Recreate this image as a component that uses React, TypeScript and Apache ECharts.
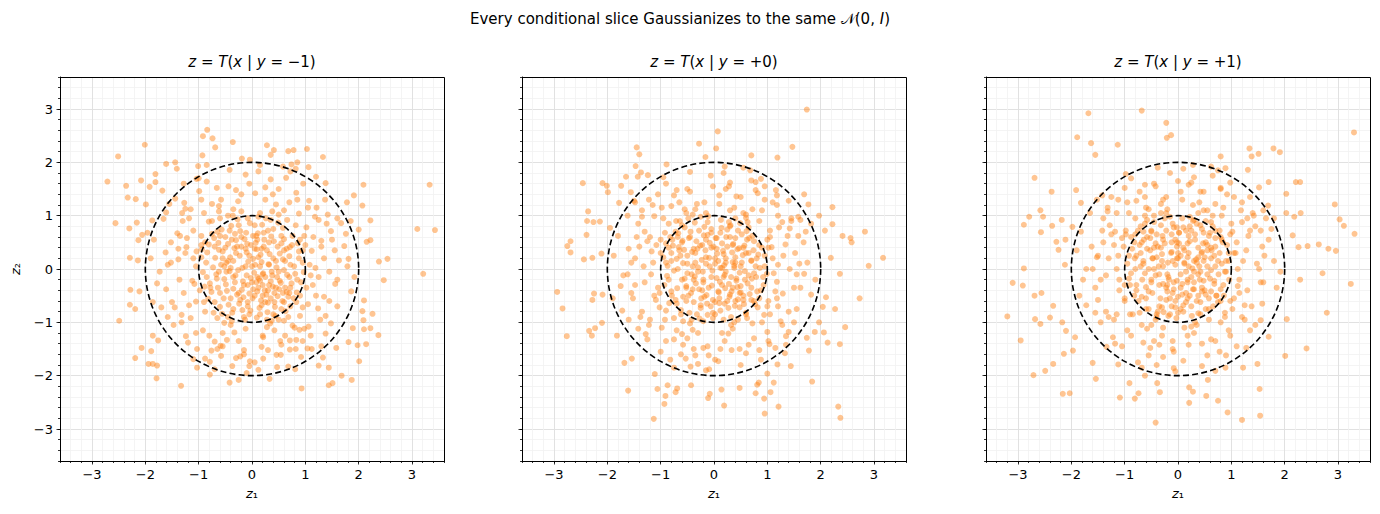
import React, { useEffect, useRef } from "react";
import * as echarts from "echarts";

const FONT = "DejaVu Sans";
const AXIS_MIN = -3.6;
const AXIS_MAX = 3.6;
const MINOR_STEP = 0.2;
const majorTicks = [-3, -2, -1, 0, 1, 2, 3];
const circleRadii = [1, 2];
const panelConditions = ["−1", "+0", "+1"];
const suptitle = "Every conditional slice Gaussianizes to the same ";

// ---------- panel 1: y = -1 ----------
const p1Outer = [
[-0.84,2.61],[-0.92,2.49],[-0.74,2.45],[-0.69,2.28],[-0.36,2.38],[-2.01,2.33],[-2.51,2.11],[-2.71,1.64],[-0.93,2.13],[-0.19,2.07],[-0.04,2.05],[0.28,2.32],[0.41,2.23],[0.35,2.14],[0.68,2.21],[0.78,2.23],[1.03,2.25],[1.33,2.10],[0.85,2.0],[0.74,1.96],[0.82,1.88],[1.06,1.91],[1.2,1.73],[1.38,1.61],[2.09,1.58],[3.33,1.58],[1.91,1.38],[1.78,1.25],[2.07,1.19],[2.22,0.91],[3.1,0.75],[3.43,0.73],[2.0,0.74],[2.22,0.54],[2.15,0.51],[2.38,0.14],[2.54,0.19],[1.81,0.19],
[-1.61,1.97],[-1.44,2.0],[-1.41,1.88],[-1.81,1.78],[-2.08,1.66],[-1.81,1.63],[-1.92,1.54],[-2.36,1.56],[-2.18,1.31],[-2.33,1.34],[-1.99,1.21],[-1.68,1.47],[-2.56,0.86],[-2.3,0.76],[-2.16,0.87],[-2.06,0.64],[-2.13,0.54],[-1.96,0.68],[-2.29,0.21],[-2.14,0.16],[-1.87,0.91],[-1.01,1.93],[-0.85,1.95],[-1.28,1.6],[-1.04,1.69],[-1.25,1.13],[-1.61,1.06],
[3.21,-0.09],[2.47,-0.21],[-2.49,-0.97],[-2.28,-0.39],[-2.29,-0.67],[-2.19,-0.75],[-2.11,-0.42],[-2.07,-1.48],[-1.89,-1.54],[-2.19,-1.67],[-1.94,-1.78],[-1.86,-1.78],[-1.78,-1.81],[-1.79,-2.05],[-1.33,-2.19],[-1.86,-1.25],[-1.76,-1.34],[-1.1,-1.69],[-1.03,-1.85],[-0.88,-1.68],[-0.79,-1.98],[-0.42,-2.13],[-0.25,-2.08],[-0.05,-1.82],[0.12,-1.89],[0.33,-2.06],[0.93,-2.24],[1.44,-2.18],[1.51,-2.14],[1.68,-2.0],[1.87,-2.08],[2.01,-1.73],[1.44,-1.85],[1.25,-1.81],[1.33,-1.66],[1.58,-1.48],[1.81,-1.37],[1.98,-1.43],[2.14,-1.41],[2.37,-1.24],[2.22,-1.11],[2.1,-1.13],[1.89,-1.11],[2.26,-0.84],[2.07,-0.79],[2.09,-0.96],[2.1,-0.59],[0.68,-1.83],[0.81,-1.88],[0.71,-1.51],[0.53,-1.35],[0.46,-1.61],[0.21,-1.68],[-0.04,-1.73],[-0.22,-1.64],[-0.59,-1.44],[-0.76,-1.53],[1.04,-1.49],[0.83,-1.33],[1.06,-1.08],[0.89,-1.14]
];
const p1Ring = [
[1.12,0.34],[-1.23,0.41],[0.45,1.21],[-0.62,1.08],[1.35,-0.52],[-1.05,-0.61],[0.21,-1.28],[-0.33,-1.19],[1.48,0.71],[-1.52,0.12],[0.88,1.04],[-1.18,0.95],[1.28,-0.95],[-0.92,-1.15],[0.06,1.42],[-1.61,-0.38],[1.63,0.16],[-0.44,1.55],[0.71,-1.34],[-1.32,-0.86],[1.02,0.78],[-0.81,0.89],[1.56,-0.28],[-1.4,0.67],[0.35,1.68],[-0.15,-1.52],[1.21,1.15],[-1.73,-0.05],[0.98,-1.12],[-0.7,-1.36],[1.73,0.43],[-1.27,1.24],[0.54,-1.61],[-1.1,0.2],[1.14,-0.3],[-0.26,1.27],[0.83,1.43],[-1.47,-1.05],[1.42,1.02],[-0.99,1.46],[1.38,-1.21],[-0.58,-1.63],[0.12,1.83],[-1.84,0.55],[1.86,-0.42],[-0.37,-1.82],[0.64,1.71],[-1.66,0.94],[1.67,0.86],[-1.2,-1.38],[0.92,-1.65],[-0.85,1.64],[1.19,0.02],[-1.08,-0.28],[0.28,-1.09],[-0.2,1.08],[1.05,-0.66],[-0.95,0.62],[0.66,0.92],[-0.52,-1.01],[1.3,0.53],[-1.36,-0.2],[0.5,1.02],[-0.75,1.22],[1.24,-0.74],[-1.15,-0.92],[0.18,-1.46],[-0.05,1.6],[1.55,0.35],[-1.62,0.31],[0.76,-1.06],[-0.47,-1.33],[1.07,1.28],[-1.31,1.05],[1.6,-0.7],[-1.5,-0.62],[0.39,1.4],[-0.3,-1.67],[1.79,0.05],[-1.78,-0.27],[0.96,1.6],[-0.66,1.52],[1.48,-1.02],[-1.03,-1.5],[0.05,-1.75],[-0.12,1.77],[1.37,1.3],[-1.44,1.32],[1.76,0.66],[-1.9,0.2],[0.47,-1.84],[-0.79,-1.74],[1.12,-1.5],[-1.24,-1.26],[0.72,1.83],[-0.42,1.86],[1.92,-0.15],[-1.7,-0.72],[1.0,0.45],[-1.04,0.33],[0.34,-1.02],[-0.36,1.0],[1.1,-0.12],[-0.98,-0.4],[0.6,-0.97],[-0.6,0.95],[1.25,0.92],[-1.22,0.58],[0.9,-0.88],[-0.88,-0.8],[1.45,-0.05],[-1.38,0.38],[0.25,1.53],[-0.55,-1.45],[1.6,0.95],[-1.58,-0.9],[0.82,-1.5],[-1.0,1.7],[0.15,1.95],[-0.1,-1.95],[1.85,0.9],[-1.86,-0.62],[1.3,-1.45],[-1.55,1.22],[0.58,1.92],[-0.7,-1.88]
];
const p1Core = [
[0.12,-0.35],[-0.41,0.22],[0.55,0.48],[-0.08,-0.62],[0.31,0.09],[-0.66,-0.18],[0.74,-0.27],[-0.22,0.71],[0.05,0.38],[-0.53,-0.55],[0.43,-0.71],[0.19,0.83],[-0.84,0.31],[0.62,0.15],[-0.31,-0.12],[0.09,-0.91],[-0.12,0.05],[0.88,0.33],[-0.71,0.58],[0.27,-0.48],[-0.45,0.47],[0.36,0.61],[-0.19,-0.39],[0.68,-0.52],[-0.92,-0.06],[0.02,0.19],[-0.58,0.08],[0.47,-0.15],[-0.27,0.93],[0.15,-0.22],[-0.03,-0.78],[0.81,-0.09],[-0.37,-0.82],[0.58,0.77],[-0.76,-0.43],[0.22,0.42],[-0.14,0.56],[0.39,-0.33],[-0.62,0.36],[0.95,0.12],[-0.05,-0.46],[0.29,-0.81],[-0.49,-0.29],[0.11,0.67],[-0.86,0.12],[0.71,0.41],[-0.24,-0.65],[0.51,-0.38],[-0.33,0.39],[0.04,-0.07],[0.63,-0.79],[-0.57,0.74],[0.33,0.28],[-0.1,0.31],[0.17,-0.59],[-0.79,-0.27],[0.84,-0.44],[-0.42,-0.04],[0.26,0.95],[-0.17,-0.23],[0.46,0.03],[-0.69,0.21],[0.07,0.49],[-0.28,-0.48],[0.57,-0.6],[-0.5,0.6],[0.37,-0.05],[-0.04,0.86],[0.14,-0.73],[-0.94,0.37],[0.76,0.62],[-0.35,0.15],[0.21,-0.08],[-0.6,-0.71],[0.92,-0.25],[-0.2,0.42],[0.41,0.52],[-0.08,-0.3],[0.66,-0.11],[-0.47,-0.41],[0.02,0.62],[-0.73,0.03],[0.3,-0.63],[-0.13,-0.95],[0.52,0.29],[-0.39,0.81],[0.18,0.13],[-0.82,-0.56],[0.79,0.05],[-0.26,-0.02],[0.44,-0.88],[-0.55,0.33],[0.09,0.37],[0.24,-0.4],[-0.67,-0.1],[0.6,0.56],[-0.11,0.68],[0.35,-0.23],[-0.44,-0.67],[0.72,-0.35],[-0.3,0.54],[0.13,-0.18],[-0.89,-0.33],[0.49,0.87],[-0.16,-0.53],[0.86,0.48],[-0.63,0.49],[0.01,-0.55],[0.4,0.2],[-0.35,-0.37],[0.65,-0.43],[-0.07,0.14],[0.23,0.55],[-0.52,-0.19],[0.54,-0.26],[-0.23,0.25],[0.1,-0.42],[-0.75,0.66],[0.83,-0.62],[-0.4,0.02],[0.3,0.72],[-0.02,-0.17],[0.6,-0.02],[-0.56,-0.84],[0.16,0.27],[-0.18,-0.77],[0.48,-0.51],[-0.81,0.46],[0.7,0.24],[-0.09,0.47],[0.37,-0.97],[-0.64,-0.35],[0.2,-0.3],[-0.32,0.66],[0.97,-0.06],[-0.48,0.12],[0.06,0.08],[0.42,-0.45]
];
const p1Extra = [
[0.25,-0.15],[-0.15,-0.3],[0.05,-0.5],[0.35,-0.55],[0.15,0.05],[-0.3,0.3],[0.5,-0.05],[-0.05,0.25],[0.28,0.35],[-0.48,-0.05],[0.62,-0.35],[0.08,-0.25],[-0.22,-0.58],[0.45,0.15],[-0.38,0.55],[0.18,-0.68],[0.72,0.08],[-0.6,-0.45],[0.32,-0.3],[-0.02,0.45],[0.55,0.62],[-0.7,0.42],[0.12,0.22],[-0.18,0.02],[0.4,-0.85],[0.85,-0.2],[-0.85,-0.15],[0.22,0.68],[-0.45,-0.9],[0.65,0.38],[-0.1,-0.12],[0.02,-0.38],[0.38,-0.12],[-0.32,-0.25],[0.48,0.42],[-0.55,0.2],[0.15,-0.85],[0.78,-0.55],[-0.25,0.82],[0.58,0.18],[-0.65,0.7],[0.1,0.55],[-0.4,-0.55],[0.3,-0.4],[0.9,0.55],[-0.95,0.22],[0.2,-0.5],[-0.08,-0.7],[0.52,-0.22],[-0.28,0.42],[1.02,-0.35],[-1.05,0.05],[0.68,-0.9],[-0.72,-0.82],[0.15,1.05],[-0.35,1.12],[1.15,0.6],[-1.1,0.72],[0.42,-1.15],[-0.12,-1.12],[1.25,-0.15],[-1.28,-0.45],[0.82,0.82],[-0.75,0.9],[0.95,-0.72],[-0.9,-0.62],[1.35,0.2],[-1.38,0.18],[0.25,1.3],[-0.58,1.3],[0.62,-1.25],[-0.25,-1.35],[1.18,0.98],[-1.15,1.12],[1.45,-0.6],[-1.45,-0.72],[0.5,1.5],[-0.3,1.48],[0.3,-1.52],[-0.8,-1.25],[1.5,0.55],[-1.52,0.5],[1.05,1.15],[-1.3,0.9],[1.1,-1.25],[-1.05,-1.2],[0.7,1.25],[-0.95,1.3],[0.95,-1.35],[-0.65,-1.5],[0.05,0.82],[-0.52,0.05],[0.6,-0.62],[-0.08,0.95],[0.88,0.2],[-0.78,-0.35],[0.32,0.5],[-0.42,0.72],[0.5,-0.95],[-0.15,-0.9],[0.75,0.45],[-0.62,-0.05],[0.1,-0.15],[0.4,0.75],[-0.35,-0.75],[0.7,-0.45],[-0.88,0.5],[0.18,0.38],[-0.2,0.6],[0.55,-0.75],[0.0,-0.25],[0.28,-0.95],[0.95,0.35],[-0.5,0.4],[0.12,0.98],[-0.7,-0.62],[1.08,0.08],[-1.12,-0.22],[0.38,1.08],[-0.45,1.0],[0.8,-1.1],[-0.4,-1.05],[1.3,0.42],[-1.25,0.3],[0.2,-1.25],[-0.9,1.05],[1.2,-0.5],[-1.18,-0.68],[0.6,1.1],[-0.62,1.18],[0.9,-0.5],[-0.55,-1.2],[1.4,0.85],[-1.35,0.62],[1.38,-0.88],[-1.32,-1.0],[0.85,1.3],[-0.2,1.4],[0.55,-1.42],[-0.15,-1.6],[1.6,-0.2],[-1.58,0.08],[0.98,0.62],[-0.95,0.45],[0.72,-0.7],[-0.65,-0.92],[0.35,0.92],[-0.38,-0.98],[0.6,0.35],[-0.6,0.62],[0.2,-0.1],[-0.25,-0.45],[0.45,-0.35],[-0.12,0.38],[0.08,0.62],[0.32,0.08],[-0.45,0.15],[0.7,-0.15],[-0.05,-0.85],[0.25,-0.62],[0.0,0.05],[0.42,-0.62],[-0.35,-0.15],[0.58,-0.45]
];

// ---------- panel 2: y = +0 ----------
const p2Outer = [
[1.74,2.99],[0.07,2.58],[-0.28,2.35],[0.04,2.26],[-0.16,2.1],[-1.45,2.28],[-1.4,2.15],[1.47,2.29],[0.7,2.13],[1.19,2.09],[-0.89,1.96],[-1.47,1.93],[-1.37,1.81],[-1.43,1.73],[-1.65,1.73],[-1.24,1.76],[-2.46,1.61],[-2.09,1.61],[-2.01,1.56],[-1.99,1.44],[-1.78,1.24],[-2.36,1.08],[-2.38,0.9],[-2.26,0.88],[-2.14,0.89],[-2.39,0.64],[-2.69,0.52],[-2.75,0.43],[-2.69,0.31],[-2.44,0.18],[-2.28,0.21],[-2.11,0.29],[-1.95,0.77],[-1.74,1.56],[-1.56,1.44],[1.77,1.21],[1.69,1.4],[1.16,1.48],[1.18,1.38],[0.88,1.69],[0.78,1.63],[2.22,1.16],[1.97,1.0],[2.22,0.84],[2.08,0.72],[2.41,0.62],[2.56,0.58],[2.58,0.5],[2.83,0.7],[3.17,0.21],[2.9,0.06],[2.19,0.21],
[-2.94,-0.43],[-2.84,-0.74],[-2.76,-1.26],[-2.34,-1.16],[-2.29,-1.25],[-2.23,-1.11],[-2.1,-1.01],[-2.28,-0.58],[-2.25,-0.46],[-2.09,-0.48],[-1.82,-1.25],[-1.68,-1.76],[-1.54,-1.68],[-1.61,-2.28],[-1.13,-2.81],[-1.11,-1.97],[-1.06,-2.25],[-0.93,-2.53],[-0.91,-2.38],[-0.87,-2.18],[-0.72,-2.31],[-0.69,-2.24],[-0.43,-2.18],[-0.44,-1.83],[-0.09,-1.88],[-0.08,-2.34],[-0.11,-2.42],[0.19,-2.56],[0.14,-2.26],[0.48,-2.23],[0.81,-2.17],[0.84,-2.13],[0.78,-2.33],[1.0,-1.96],[1.12,-2.13],[0.94,-2.43],[0.95,-2.71],[1.06,-2.31],[1.21,-2.58],[1.84,-2.11],[2.33,-2.58],[2.37,-2.79],[1.44,-1.82],[1.19,-1.79],[1.33,-1.58],[1.78,-1.53],[1.74,-1.29],[1.89,-1.18],[2.06,-1.19],[2.13,-1.38],[2.36,-1.41],[2.46,-1.09],[1.97,-1.0],[2.04,-0.71],[2.27,-0.75],[2.73,-0.55],[2.36,-0.09],[2.1,-0.53],[1.69,-0.09],[1.4,-1.18],[1.04,-1.41],[0.33,-1.52],[0.08,-1.73],[-0.53,-1.68]
];
const p2Ring = [
[1.08,0.41],[-1.17,0.33],[0.38,1.15],[-0.55,1.12],[1.29,-0.46],[-1.09,-0.58],[0.27,-1.21],[-0.4,-1.14],[1.42,0.76],[-1.48,0.2],[0.9,1.1],[-1.12,0.99],[1.25,-0.98],[-0.98,-1.1],[0.1,1.38],[-1.55,-0.45],[1.6,0.1],[-0.5,1.5],[0.75,-1.3],[-1.35,-0.8],[1.05,0.72],[-0.85,0.85],[1.5,-0.35],[-1.45,0.6],[0.3,1.62],[-0.2,-1.48],[1.18,1.2],[-1.7,-0.12],[1.0,-1.18],[-0.75,-1.32],[1.68,0.5],[-1.22,1.3],[0.6,-1.58],[-1.14,0.12],[1.18,-0.24],[-0.32,1.22],[0.78,1.48],[-1.42,-1.12],[1.45,0.95],[-1.05,1.4],[1.35,-1.26],[-0.62,-1.6],[0.18,1.8],[-1.8,0.62],[1.82,-0.48],[-0.3,-1.78],[0.7,1.66],[-1.62,1.0],[1.62,0.92],[-1.25,-1.32],[0.88,-1.7],[-0.9,1.6],[1.2,0.08],[-1.05,-0.35],[0.32,-1.05],[-0.15,1.05],[1.02,-0.6],[-0.92,0.68],[0.6,0.96],[-0.58,-0.98],[1.34,0.46],[-1.3,-0.25],[0.55,1.05],[-0.8,1.18],[1.2,-0.7],[-1.2,-0.95],[0.12,-1.5],[-0.02,1.55],[1.52,0.3],[-1.6,0.38],[0.72,-1.02],[-0.5,-1.3],[1.1,1.25],[-1.35,1.1],[1.55,-0.75],[-1.52,-0.55],[0.42,1.36],[-0.35,-1.62],[1.75,0.12],[-1.75,-0.32],[0.95,1.55],[-0.7,1.48],[1.5,-1.0],[-1.0,-1.55],[0.02,-1.7],[-0.06,1.75],[1.4,1.28],[-1.48,1.25],[1.72,0.7],[-1.88,0.25],[0.5,-1.8],[-0.82,-1.7],[1.15,-1.48],[-1.28,-1.22],[0.68,1.85],[-0.45,1.82],[1.9,-0.2],[-1.72,-0.78],[1.02,0.4],[-1.0,0.3],[0.38,-1.0],[-0.4,1.02],[1.12,-0.08],[-1.02,-0.45],[0.62,-0.92],[-0.64,0.9],[1.28,0.88],[-1.25,0.52],[0.94,-0.86],[-0.9,-0.78],[1.42,0.0],[-1.4,0.42],[0.22,1.5],[-0.58,-1.42],[1.58,0.98],[-1.6,-0.95],[0.85,-1.52],[-0.95,1.72],[0.2,1.92],[-0.15,-1.9],[1.82,0.85],[-1.9,-0.55],[1.35,-1.42],[-1.5,1.28],[0.55,1.9],[-0.75,-1.85]
];
const p2Core = [
[0.08,0.15],[-0.34,-0.27],[0.47,0.39],[-0.12,0.64],[0.29,-0.52],[-0.58,0.11],[0.71,-0.18],[-0.25,-0.73],[0.13,0.92],[-0.77,0.44],[0.56,-0.66],[-0.04,-0.31],[0.38,0.06],[-0.47,0.58],[0.83,0.27],[-0.69,-0.36],[0.2,-0.11],[-0.16,0.35],[0.61,0.71],[-0.88,-0.13],[0.02,-0.85],[0.44,-0.34],[-0.36,0.87],[0.75,0.52],[-0.52,-0.6],[0.15,0.48],[-0.21,-0.05],[0.93,-0.3],[-0.63,0.25],[0.32,-0.9],[-0.09,0.21],[0.52,0.12],[-0.43,-0.45],[0.25,0.74],[-0.82,0.6],[0.67,-0.47],[-0.3,0.03],[0.1,-0.64],[-0.55,0.78],[0.86,0.02],[-0.14,-0.49],[0.4,0.58],[-0.72,-0.58],[0.58,-0.04],[-0.01,0.42],[-0.95,0.22],[0.34,0.31],[-0.27,-0.93],[0.77,-0.66],[-0.41,0.32],[0.05,-0.17],[0.49,0.86],[-0.6,-0.2],[0.21,-0.36],[-0.18,0.79],[0.9,0.4],[-0.79,-0.5],[0.12,0.02],[-0.33,0.52],[0.63,-0.27],[-0.06,-0.7],[0.36,0.47],[-0.5,-0.08],[0.7,0.16],[-0.23,0.17],[0.27,-0.73],[-0.66,0.41],[0.45,-0.57],[-0.11,0.99],[0.81,-0.42],[-0.87,0.06],[0.03,0.58],[-0.38,-0.62],[0.54,0.26],[-0.2,-0.2],[0.17,0.34],[-0.71,0.9],[0.99,-0.09],[-0.46,-0.82],[0.31,0.82],[-0.03,-0.03],[0.6,-0.82],[-0.59,0.53],[0.23,0.6],[-0.28,-0.38],[0.74,0.35],[-0.15,0.1],[0.42,-0.18],[-0.93,-0.3],[0.09,-0.44],[-0.44,0.7],[0.66,0.58],[-0.24,-0.55],[0.5,-0.44],[-0.7,0.19],[0.18,-0.95],[-0.08,0.49],[0.35,0.13],[-0.52,-0.32],[0.79,-0.15],[-0.31,0.38],[0.14,0.77],[-0.84,-0.64],[0.57,0.44],[-0.12,-0.86],[0.28,-0.28],[-0.4,0.05],[0.95,0.25],[-0.62,-0.77],[0.06,0.29],[-0.19,0.63],[0.48,-0.07],[-0.56,0.36],[0.39,-0.69],[-0.02,-0.58],[0.7,-0.58],[-0.75,-0.03],[0.22,0.2],[-0.36,-0.14],[0.63,0.88],[-0.9,0.48],[0.11,-0.24],[-0.26,0.44],[0.52,0.65],[-0.48,-0.5],[0.85,-0.55],[-0.05,0.75],[0.33,-0.42],[-0.67,0.67],[0.19,0.07],[-0.13,-0.65],[0.44,0.37],[-0.8,0.3]
];
const p2Extra = [
[0.18,0.28],[-0.22,0.45],[0.42,-0.22],[-0.05,-0.15],[0.6,0.3],[-0.55,-0.18],[0.3,0.6],[-0.35,0.12],[0.1,-0.55],[-0.65,0.35],[0.75,-0.08],[-0.12,0.88],[0.48,-0.72],[-0.8,-0.42],[0.22,0.12],[-0.4,-0.38],[0.62,0.55],[-0.28,0.72],[0.05,0.38],[0.35,-0.35],[-0.18,-0.52],[0.85,0.45],[-0.9,0.12],[0.15,-0.3],[-0.45,0.6],[0.55,-0.5],[-0.7,-0.65],[0.28,0.88],[-0.08,0.05],[0.7,-0.35],[-0.32,-0.85],[0.4,0.22],[-0.6,0.82],[0.92,-0.15],[-0.5,0.25],[0.12,0.68],[-0.2,-0.25],[0.5,0.05],[-0.02,-0.82],[0.65,0.78],[-0.78,0.55],[0.25,-0.6],[-0.38,0.38],[0.8,0.2],[-0.85,-0.2],[0.02,0.2],[0.45,-0.95],[-0.58,-0.52],[0.35,0.45],[-0.15,0.55],[0.58,-0.2],[-0.25,-0.68],[0.15,0.02],[-0.68,0.0],[0.72,0.62],[-0.42,-0.1],[0.08,-0.42],[0.95,0.05],[-0.48,0.95],[0.32,-0.15],[1.05,0.6],[-1.08,0.45],[0.6,1.02],[-0.52,1.05],[1.15,-0.42],[-1.02,-0.72],[0.35,-1.12],[-0.45,-1.02],[1.3,0.25],[-1.32,0.05],[0.85,0.9],[-0.95,0.95],[1.05,-0.85],[-0.92,-0.95],[0.1,1.22],[-0.18,1.25],[0.2,-1.35],[-0.7,-1.15],[1.38,0.62],[-1.3,0.7],[1.2,1.0],[-1.15,1.2],[1.28,-1.05],[-1.22,-1.05],[0.5,1.35],[-0.75,1.38],[0.65,-1.42],[-0.38,-1.5],[1.55,-0.1],[-1.55,0.12],[0.28,1.55],[-0.1,-1.62],[1.58,0.62],[-1.48,-0.3],[0.95,1.3],[-1.35,0.98],[1.02,-1.35],[-0.9,-1.35],[0.78,0.05],[-0.8,0.15],[0.45,0.72],[-0.25,0.98],[0.6,-0.85],[-0.62,-0.85],[0.88,-0.4],[-0.72,0.7],[0.02,-0.62],[0.38,0.02],[-0.35,0.3],[0.55,0.4],[-0.1,-0.35],[0.25,0.42],[-0.52,-0.35],[0.7,0.15],[-0.15,0.22],[0.12,-0.78],[-0.85,0.4],[0.82,-0.72],[-0.2,-0.98],[0.4,0.95],[-0.6,0.5],[0.18,-0.15],[-0.3,-0.05],[0.5,-0.32],[-0.05,0.68],[0.3,-0.48],[1.1,0.2],[-1.18,-0.1],[0.3,1.1],[-0.35,1.12],[0.9,-1.0],[-0.3,-1.2],[1.22,0.78],[-1.2,0.6],[0.15,-1.2],[-0.98,1.15],[1.18,-0.55],[-1.12,-0.5],[0.72,1.12],[-0.65,1.25],[1.0,-0.7],[-0.6,-1.22],[1.45,0.9],[-1.42,0.85],[1.4,-0.8],[-1.38,-0.9],[0.82,1.42],[-0.45,1.45],[0.48,-1.5],[-0.12,-1.45],[1.62,-0.35],[-1.62,-0.1],[1.0,0.55],[-1.0,0.55],[0.75,-0.6],[-0.75,-0.92],[0.3,0.8],[-0.42,-0.95],[0.65,0.3],[-0.68,0.6],[0.22,-0.05],[-0.22,-0.4],[0.48,-0.45],[-0.05,0.4],[0.05,0.58],[0.4,0.12],[-0.5,0.1],[0.65,-0.12],[-0.02,-0.92],[0.2,-0.65],[0.02,0.1],[0.4,-0.6],[-0.38,-0.2],[0.55,-0.58]
];

// ---------- panel 3: y = +1 ----------
const p3Outer = [
[-0.68,2.97],[-1.68,2.92],[-0.22,2.74],[-0.21,2.46],[-0.13,2.51],[-1.89,2.47],[-1.63,2.36],[-1.13,2.33],[-1.55,2.14],[3.3,2.56],[1.34,2.26],[1.79,2.26],[1.91,2.19],[1.51,2.16],[1.38,2.11],[0.8,2.11],[0.89,1.89],[1.31,1.86],[-2.69,1.71],[-2.37,1.45],[-1.91,1.48],[-1.82,1.24],[-2.58,1.1],[-2.79,0.98],[-2.89,0.83],[-2.53,0.98],[-2.57,0.69],[-2.36,0.81],[-2.18,0.92],[-2.28,0.51],[-2.11,0.55],[-2.24,0.36],[-2.12,0.08],[-2.89,0.01],[-1.98,0.79],[1.7,1.63],[1.52,1.53],[2.03,1.41],[2.21,1.63],[2.29,1.63],[1.69,1.19],[2.03,1.05],[2.3,1.05],[2.18,0.98],[2.94,1.21],[3.03,0.93],[3.11,0.81],[3.31,0.66],[2.15,0.63],[2.43,0.43],[2.64,0.46],[2.82,0.38],[2.96,0.34],[2.26,0.41],
[3.24,-0.28],[2.71,-0.08],[2.29,-0.2],[2.79,-0.82],[2.41,-1.49],[2.01,-1.63],[2.04,-0.94],[1.7,-1.27],[1.55,-0.96],[1.53,-2.25],[1.54,-2.75],[1.2,-2.83],[0.93,-2.69],[0.75,-2.47],[0.53,-2.38],[0.21,-2.22],[0.28,-2.3],[0.21,-2.51],[0.56,-2.08],[0.7,-1.91],[0.89,-1.85],[1.22,-1.85],[1.49,-1.78],[-0.42,-2.88],[-0.34,-2.31],[-0.39,-2.14],[-0.74,-2.33],[-0.81,-2.43],[-0.91,-2.14],[-1.09,-2.41],[-1.54,-2.06],[-1.6,-1.76],[-2.03,-2.33],[-2.16,-2.34],[-2.71,-1.99],[-2.49,-1.91],[-2.34,-1.78],[-2.14,-1.59],[-1.97,-1.53],[-2.95,-1.34],[-3.2,-0.89],[-3.1,-0.26],[-2.91,-0.31],[-2.68,-0.94],[-2.58,-1.03],[-2.69,-0.5],[-2.56,-0.45],[-2.4,-0.91],[-2.34,-0.69],[-2.17,-1.0],[-2.1,-1.16],[-1.93,-1.28],[-1.34,-1.46],[-1.12,-1.79],[-0.62,-2.0],[-0.08,-1.86]
];
const p3Ring = [
[1.1,0.5],[-1.2,0.45],[0.4,1.25],[-0.6,1.15],[1.3,-0.4],[-1.0,-0.55],[0.3,-1.2],[-0.3,-1.25],[1.45,0.8],[-1.5,0.25],[0.85,1.15],[-1.15,1.05],[1.2,-0.9],[-0.95,-1.15],[0.05,1.45],[-1.55,-0.35],[1.62,0.25],[-0.45,1.6],[0.7,-1.35],[-1.3,-0.9],[1.0,0.85],[-0.8,0.95],[1.55,-0.25],[-1.42,0.72],[0.3,1.72],[-0.1,-1.5],[1.2,1.25],[-1.72,0.0],[0.95,-1.15],[-0.65,-1.38],[1.7,0.55],[-1.25,1.35],[0.55,-1.62],[-1.12,0.25],[1.15,-0.2],[-0.28,1.3],[0.8,1.5],[-1.45,-1.0],[1.4,1.05],[-1.0,1.52],[1.35,-1.15],[-0.55,-1.62],[0.1,1.88],[-1.82,0.7],[1.85,-0.35],[-0.4,-1.8],[0.65,1.75],[-1.65,1.05],[1.65,0.95],[-1.18,-1.4],[0.9,-1.62],[-0.88,1.7],[1.22,0.15],[-1.1,-0.2],[0.25,-1.08],[-0.2,1.12],[1.05,-0.55],[-0.98,0.72],[0.65,1.0],[-0.5,-1.05],[1.32,0.62],[-1.35,-0.12],[0.48,1.1],[-0.78,1.28],[1.25,-0.68],[-1.15,-0.85],[0.2,-1.42],[0.0,1.65],[1.58,0.42],[-1.62,0.42],[0.8,-1.0],[-0.45,-1.35],[1.05,1.35],[-1.32,1.15],[1.58,-0.65],[-1.5,-0.58],[0.42,1.45],[-0.28,-1.65],[1.8,0.15],[-1.78,-0.2],[0.98,1.62],[-0.62,1.58],[1.45,-1.05],[-1.05,-1.45],[0.1,-1.72],[-0.15,1.8],[1.35,1.35],[-1.42,1.38],[1.75,0.75],[-1.9,0.35],[0.45,-1.82],[-0.75,-1.75],[1.1,-1.45],[-1.22,-1.28],[0.75,1.85],[-0.38,1.9],[1.92,-0.05],[-1.72,-0.68],[1.05,0.3],[-1.02,0.42],[0.35,-1.05],[-0.32,1.05],[1.12,0.0],[-1.0,-0.3],[0.58,-0.95],[-0.62,1.0],[1.3,0.95],[-1.25,0.65],[0.88,-0.82],[-0.85,-0.85],[1.48,0.1],[-1.4,0.5],[0.2,1.58],[-0.52,-1.48],[1.6,1.1],[-1.55,-0.82],[0.78,-1.55],[-0.98,1.78],[0.28,1.95],[-0.05,-1.92],[1.8,0.95],[-1.85,-0.5],[1.28,-1.48],[-1.52,1.3],[0.62,1.92],[-0.68,-1.85]
];
const p3Core = [
[0.05,0.25],[-0.38,0.42],[0.41,-0.2],[-0.1,-0.45],[0.63,0.35],[-0.7,0.05],[0.22,0.8],[-0.27,-0.81],[0.8,-0.38],[-0.5,0.72],[0.15,-0.62],[-0.05,0.55],[0.34,0.18],[-0.6,-0.34],[0.9,0.15],[-0.19,0.12],[0.48,0.68],[-0.86,0.38],[0.08,-0.28],[-0.42,-0.12],[0.58,-0.55],[-0.25,0.95],[0.7,0.58],[-0.74,-0.6],[0.27,0.01],[-0.13,0.3],[0.38,-0.83],[-0.92,-0.18],[0.18,0.48],[-0.47,0.2],[0.76,-0.1],[-0.03,-0.92],[0.52,0.9],[-0.64,0.55],[0.3,-0.38],[-0.33,-0.55],[0.96,-0.2],[-0.08,0.78],[0.44,0.3],[-0.55,-0.75],[0.12,0.12],[-0.29,0.62],[0.66,-0.7],[-0.81,0.2],[0.25,-0.15],[-0.17,-0.2],[0.55,0.05],[-0.45,0.88],[0.84,0.5],[-0.67,-0.2],[0.02,0.68],[0.35,-0.6],[-0.36,0.05],[0.62,0.2],[-0.12,-0.7],[0.2,0.62],[-0.88,0.6],[0.72,-0.5],[-0.22,-0.35],[0.47,0.48],[-0.58,0.38],[0.1,-0.8],[-0.05,0.08],[0.86,-0.5],[-0.4,-0.9],[0.3,0.92],[-0.78,-0.4],[0.58,0.62],[-0.3,0.28],[0.15,-0.45],[-0.62,0.85],[0.95,0.3],[-0.15,-0.55],[0.4,0.05],[-0.5,-0.2],[0.68,-0.28],[-0.02,0.42],[0.26,-0.88],[-0.95,0.1],[0.5,0.22],[-0.25,0.48],[0.05,-0.1],[-0.7,0.3],[0.78,0.72],[-0.35,-0.7],[0.2,0.3],[-0.1,0.85],[0.45,-0.42],[-0.52,0.58],[0.88,-0.05],[-0.82,-0.5],[0.32,0.65],[-0.2,-0.1],[0.6,-0.18],[-0.45,0.4],[0.08,0.95],[-0.6,-0.55],[0.7,0.42],[-0.08,-0.38],[0.38,0.4],[-0.75,0.72],[0.25,-0.7],[-0.3,0.15],[0.52,-0.75],[-0.02,0.2],[0.15,0.72],[-0.9,-0.3],[0.82,0.1],[-0.4,0.65],[0.42,-0.05],[-0.15,-0.85],[0.65,0.8],[-0.55,0.0],[0.1,0.4],[-0.28,-0.28],[0.75,-0.62],[-0.68,0.5],[0.35,0.85],[-0.05,-0.6],[0.55,0.35],[-0.48,-0.45],[0.92,0.45],[-0.22,0.72],[0.18,-0.25],[-0.8,0.0],[0.62,-0.42],[-0.12,0.5],[0.3,0.15],[-0.38,-0.8],[0.8,0.6],[-0.65,0.15],[0.05,-0.75],[0.45,0.75]
];
const p3Extra = [
[0.12,0.35],[-0.28,0.55],[0.38,-0.1],[-0.02,-0.22],[0.55,0.45],[-0.62,-0.08],[0.25,0.72],[-0.4,0.22],[0.08,-0.48],[-0.72,0.45],[0.7,0.05],[-0.15,0.98],[0.42,-0.62],[-0.78,-0.3],[0.18,0.22],[-0.35,-0.3],[0.6,0.68],[-0.32,0.82],[0.02,0.48],[0.3,-0.25],[-0.2,-0.42],[0.82,0.55],[-0.92,0.25],[0.18,-0.2],[-0.5,0.7],[0.5,-0.4],[-0.68,-0.52],[0.22,0.98],[-0.1,0.15],[0.68,-0.22],[-0.3,-0.72],[0.45,0.32],[-0.58,0.92],[0.9,-0.05],[-0.52,0.35],[0.1,0.78],[-0.18,-0.15],[0.48,0.15],[-0.05,-0.72],[0.62,0.88],[-0.8,0.65],[0.22,-0.5],[-0.42,0.48],[0.78,0.3],[-0.88,-0.08],[0.0,0.3],[0.42,-0.85],[-0.55,-0.42],[0.32,0.55],[-0.12,0.65],[0.55,-0.1],[-0.22,-0.58],[0.12,0.1],[-0.65,0.1],[0.7,0.72],[-0.45,0.0],[0.05,-0.35],[0.95,0.15],[-0.45,1.0],[0.3,-0.05],[1.02,0.7],[-1.05,0.58],[0.55,1.1],[-0.55,1.12],[1.12,-0.32],[-1.0,-0.6],[0.32,-1.0],[-0.42,-0.95],[1.28,0.35],[-1.3,0.2],[0.82,1.0],[-0.92,1.05],[1.02,-0.75],[-0.9,-0.85],[0.08,1.3],[-0.22,1.35],[0.18,-1.25],[-0.68,-1.05],[1.35,0.72],[-1.28,0.82],[1.18,1.1],[-1.12,1.3],[1.25,-0.95],[-1.2,-0.95],[0.48,1.45],[-0.72,1.45],[0.62,-1.32],[-0.35,-1.42],[1.52,0.0],[-1.52,0.22],[0.25,1.62],[-0.08,-1.55],[1.55,0.72],[-1.45,-0.2],[0.92,1.4],[-1.32,1.08],[0.98,-1.25],[-0.88,-1.25],[0.75,0.15],[-0.78,0.25],[0.42,0.82],[-0.22,1.05],[0.58,-0.75],[-0.6,-0.75],[0.85,-0.3],[-0.7,0.8],[0.0,-0.52],[0.35,0.12],[-0.32,0.4],[0.52,0.5],[-0.08,-0.25],[0.22,0.52],[-0.5,-0.25],[0.68,0.25],[-0.12,0.32],[0.1,-0.68],[-0.82,0.5],[0.8,-0.6],[-0.18,-0.88],[0.38,1.05],[-0.58,0.6],[0.15,-0.05],[-0.28,0.05],[0.48,-0.22],[-0.02,0.78],[0.28,-0.38],[1.08,0.3],[-1.15,0.0],[0.28,1.2],[-0.32,1.22],[0.88,-0.9],[-0.28,-1.1],[1.2,0.88],[-1.18,0.7],[0.12,-1.1],[-0.95,1.25],[1.15,-0.45],[-1.1,-0.4],[0.7,1.22],[-0.62,1.35],[0.98,-0.6],[-0.58,-1.12],[1.42,1.0],[-1.4,0.95],[1.38,-0.7],[-1.35,-0.8],[0.8,1.52],[-0.42,1.55],[0.45,-1.4],[-0.1,-1.35],[1.6,-0.25],[-1.6,0.0],[0.98,0.65],[-0.98,0.65],[0.72,-0.5],[-0.72,-0.82],[0.28,0.9],[-0.4,-0.85],[0.62,0.4],[-0.65,0.7],[0.2,0.05],[-0.2,-0.3],[0.45,-0.35],[-0.02,0.5],[0.02,0.68],[0.38,0.22],[-0.48,0.2],[0.62,-0.02],[0.0,-0.82],[0.18,-0.55],[0.0,0.2],[0.38,-0.5],[-0.35,-0.1],[0.52,-0.48]
];

const panelPoints = [
  [...p1Outer, ...p1Ring, ...p1Core, ...p1Extra],
  [...p2Outer, ...p2Ring, ...p2Core, ...p2Extra],
  [...p3Outer, ...p3Ring, ...p3Core, ...p3Extra],
];

const GRID_LEFTS = [60, 522, 986];
const GRID_TOP = 77;
const GRID_W = 384;
const GRID_H = 384;
const NB = "\u00a0";

const fmt = (v: number) => (v < 0 ? "−" + Math.abs(v) : String(v));

function buildOption() {
  const grid: any[] = [];
  const xAxis: any[] = [];
  const yAxis: any[] = [];
  const series: any[] = [];
  const graphic: any[] = [];
  const tickStyle = { color: "#000", width: 0.8 };
  const nameStyle = {
    fontSize: 13, color: "#000", fontFamily: FONT,
    rich: { i: { fontStyle: "italic", fontSize: 13, fontFamily: FONT, color: "#000" } },
  };

  panelPoints.forEach((pts, i) => {
    grid.push({ left: GRID_LEFTS[i], top: GRID_TOP, width: GRID_W, height: GRID_H, containLabel: false });
    xAxis.push({
      type: "value", gridIndex: i, position: "bottom", min: AXIS_MIN, max: AXIS_MAX, interval: MINOR_STEP,
      axisLine: { show: true, onZero: false, lineStyle: { color: "#000", width: 1 } },
      axisTick: { show: true, length: 2, lineStyle: tickStyle },
      axisLabel: { show: false },
      splitLine: { show: true, lineStyle: { color: "#f1f1f1", width: 0.8 } },
    });
    xAxis.push({
      type: "value", gridIndex: i, position: "bottom", min: AXIS_MIN, max: AXIS_MAX,
      axisLine: { show: false, onZero: false },
      axisTick: { show: true, length: 3.5, customValues: majorTicks, lineStyle: tickStyle },
      axisLabel: { show: true, customValues: majorTicks, formatter: fmt, fontSize: 13, color: "#000", fontFamily: FONT, margin: 7 },
      splitLine: { show: true, lineStyle: { color: "#dcdcdc", width: 0.8 } },
      name: "{i|z}₁", nameLocation: "middle", nameGap: 26, nameTextStyle: nameStyle,
    });
    yAxis.push({
      type: "value", gridIndex: i, position: "left", min: AXIS_MIN, max: AXIS_MAX, interval: MINOR_STEP,
      axisLine: { show: true, onZero: false, lineStyle: { color: "#000", width: 1 } },
      axisTick: { show: true, length: 2, lineStyle: tickStyle },
      axisLabel: { show: false },
      splitLine: { show: true, lineStyle: { color: "#f1f1f1", width: 0.8 } },
    });
    yAxis.push({
      type: "value", gridIndex: i, position: "left", min: AXIS_MIN, max: AXIS_MAX,
      axisLine: { show: false, onZero: false },
      axisTick: { show: true, length: 3.5, customValues: majorTicks, lineStyle: tickStyle },
      axisLabel: { show: i === 0, customValues: majorTicks, formatter: fmt, fontSize: 13, color: "#000", fontFamily: FONT, margin: 7 },
      splitLine: { show: true, lineStyle: { color: "#dcdcdc", width: 0.8 } },
      name: i === 0 ? "{i|z}₂" : "", nameLocation: "middle", nameGap: 38, nameTextStyle: nameStyle,
    });
    series.push({
      type: "scatter", xAxisIndex: 2 * i + 1, yAxisIndex: 2 * i + 1,
      data: pts, symbol: "circle", symbolSize: 6,
      itemStyle: { color: "#ff7f0e", opacity: 0.45 }, z: 3,
    });
    series.push({
      type: "custom", xAxisIndex: 2 * i + 1, yAxisIndex: 2 * i + 1, z: 5,
      data: circleRadii.map((r) => [0, 0, r]),
      renderItem: (params: any, api: any) => {
        const c = api.coord([api.value(0), api.value(1)]);
        const r = api.size([api.value(2), 0])[0];
        return {
          type: "circle",
          shape: { cx: c[0], cy: c[1], r },
          style: { fill: "none", stroke: "#000", lineWidth: 1.6, lineDash: [6, 3.2] },
        };
      },
    });
    graphic.push({
      type: "rect", z: 100, silent: true,
      shape: { x: GRID_LEFTS[i] + 0.5, y: GRID_TOP + 0.5, width: GRID_W, height: GRID_H },
      style: { fill: "none", stroke: "#000", lineWidth: 1 },
    });
    graphic.push({
      type: "text", z: 100, silent: true,
      x: GRID_LEFTS[i] + GRID_W / 2, y: 62,
      style: {
        text: "{i|z}" + NB + "=" + NB + "{i|T}({i|x}" + NB + "|" + NB + "{i|y}" + NB + "=" + NB + panelConditions[i] + ")",
        align: "center", verticalAlign: "middle",
        fontSize: 15, fontFamily: FONT, fill: "#000",
        rich: { i: { fontStyle: "italic", fontSize: 15, fontFamily: FONT, fill: "#000" } },
      },
    });
  });

  graphic.push({
    type: "text", z: 100, silent: true, x: 680, y: 19,
    style: {
      text: suptitle.replace(/ /g, NB) + "{c|𝒩}(0," + NB + "{i|I})",
      align: "center", verticalAlign: "middle",
      fontSize: 15, fontFamily: FONT, fill: "#000",
      rich: {
        i: { fontStyle: "italic", fontSize: 15, fontFamily: FONT, fill: "#000" },
        c: { fontSize: 15, fontFamily: FONT, fill: "#000" },
      },
    },
  });

  return { animation: false, backgroundColor: "#fff", grid, xAxis, yAxis, series, graphic };
}

export default function App() {
  const ref = useRef<HTMLDivElement>(null);
  useEffect(() => {
    if (!ref.current) return;
    const chart = echarts.init(ref.current, null, { renderer: "svg" });
    chart.setOption(buildOption() as any);
    return () => chart.dispose();
  }, []);
  return <div ref={ref} style={{ position: "absolute", left: 0, top: 0, width: 1380, height: 514 }} />;
}
